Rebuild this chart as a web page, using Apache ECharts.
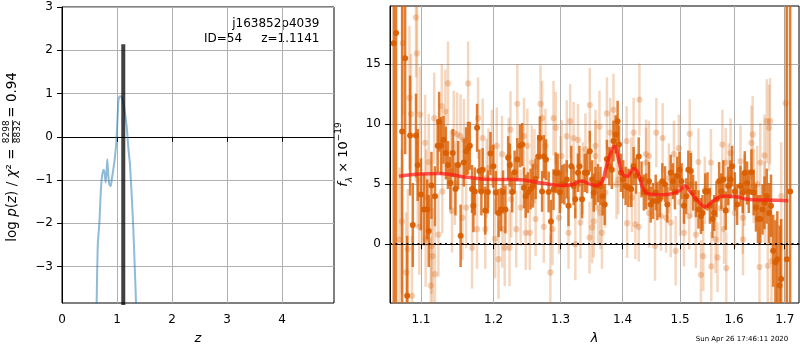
<!DOCTYPE html>
<html>
<head>
<meta charset="UTF-8">
<title>z fit j163852p4039</title>
<style>
  html, body { margin:0; padding:0; background:#fff; }
  #main { width:800px; height:350px; }
</style>
</head>
<body>
<div id="main"></div>
<script src="https://cdn.jsdelivr.net/npm/echarts@6/dist/echarts.min.js"></script>
<script>
// ---- left panel: log p(z) ----
var pzZ = [0.62, 0.630, 0.650, 0.679, 0.700, 0.721, 0.740, 0.760, 0.775, 0.794, 0.810, 0.824, 0.840, 0.860, 0.885,
  0.905, 0.933, 0.955, 0.982, 1.005, 1.024, 1.040, 1.055, 1.075, 1.095, 1.115, 1.145, 1.176, 1.206, 1.236,
  1.265, 1.297, 1.325, 1.345, 1.36];
var pzLogP = [-6, -3.84, -2.5, -2.0, -1.4, -0.98, -0.82, -0.76, -0.85, -1.06, -0.8, -0.52, -0.85, -1.1, -1.14,
  -0.98, -0.75, -0.55, -0.22, 0.3, 0.8, 0.92, 0.94, 0.93, 0.88, 0.78, 0.55, 0.24, -0.25, -0.65,
  -1.3, -2.14, -3.1, -3.84, -6];
var zBest = 1.1141;
var zPeak = 2.14;
var zTicks = [0, 1, 2, 3, 4];
var pTicks = [-3, -2, -1, 0, 1, 2, 3];

// ---- right panel: spectrum (lambda in micron, flux x 1e-19) ----
var darkLam = [
  1.0648, 1.0677, 1.0755, 1.0794, 1.0820, 1.0858, 1.0893, 1.0935, 1.0957, 1.1000,
  1.1038, 1.1083, 1.1103, 1.1139, 1.1186, 1.1222, 1.1242, 1.1269, 1.1301, 1.1333,
  1.1361, 1.1394, 1.1426, 1.1464, 1.1500, 1.1535, 1.1579, 1.1611, 1.1637, 1.1663,
  1.1694, 1.1712, 1.1732, 1.1764, 1.1797, 1.1825, 1.1843, 1.1880, 1.1917, 1.1954,
  1.1996, 1.2030, 1.2070, 1.2105, 1.2135, 1.2170, 1.2210, 1.2234, 1.2269, 1.2305,
  1.2344, 1.2384, 1.2418, 1.2443, 1.2469, 1.2503, 1.2543, 1.2577, 1.2618, 1.2657,
  1.2682, 1.2716, 1.2742, 1.2776, 1.2816, 1.2851, 1.2891, 1.2925, 1.2955, 1.2991,
  1.3027, 1.3060, 1.3097, 1.3124, 1.3168, 1.3205, 1.3232, 1.3274, 1.3297, 1.3339,
  1.3382, 1.3420, 1.3463, 1.3500, 1.3527, 1.3555, 1.3597, 1.3636, 1.3672, 1.3705,
  1.3742, 1.3781, 1.3823, 1.3850, 1.3887, 1.3919, 1.3942, 1.3974, 1.4012, 1.4053,
  1.4100, 1.4147, 1.4188, 1.4228, 1.4275, 1.4323, 1.4363, 1.4403, 1.4451, 1.4481,
  1.4521, 1.4568, 1.4596, 1.4638, 1.4684, 1.4731, 1.4772, 1.4832, 1.4872, 1.4907,
  1.4947, 1.4990, 1.5026, 1.5069, 1.5111, 1.5148, 1.5193, 1.5235, 1.5285, 1.5333,
  1.5378, 1.5407, 1.5457, 1.5500, 1.5544, 1.5593, 1.5624, 1.5667, 1.5717, 1.5759,
  1.5796, 1.5841, 1.5889, 1.5933, 1.5963, 1.6014, 1.6058, 1.6124, 1.6168, 1.6207,
  1.6251, 1.6284, 1.6336, 1.6380, 1.6425, 1.6464, 1.6510, 1.6555, 1.6593, 1.6638,
  1.6684, 1.6723, 1.6767, 1.6812, 1.6850, 1.6897, 1.6928, 1.7044, 1.7111];
var darkFlux = [
  16.75, 17.6, 9.4, 15.5, -4.3, 9.05, 1.6, 9.05, 6.6, 4.15,
  2.9, 2.9, 1.1, 4.9, 4.0, 8.2, 10.2, 8.2, 8.7, 7.6,
  6.6, 5.1, 7.6, 4.6, 6.6, 0.7, 6.8, 7.75, 8.0, 8.2,
  4.6, 3.2, 4.4, 9.7, 6.1, 4.4, 6.2, 2.8, 4.35, 7.55,
  6.5, 4.3, 2.6, 2.9, 4.35, 2.9, 7.2, 6.6, 4.35, 6.0,
  7.05, 8.2, 8.3, 4.7, 4.0, 4.3, 4.6, 4.85, 5.45, 7.3,
  8.85, 4.4, 7.3, 7.05, 4.35, 1.9, 4.55, 5.95, 5.95, 4.3,
  5.0, 5.0, 5.4, 3.2, 6.5, 4.85, 3.75, 5.95, 6.5, 3.75,
  5.95, 5.95, 7.75, 5.4, 4.3, 4.85, 5.1, 4.85, 4.0, 3.3,
  7.1, 6.5, 6.2, 8.6, 9.15, 10.25, 8.3, 5.95, 5.4, 4.85,
  4.7, 4.6, 6.5, 5.7, 7.3, 5.4, 4.3, 4.4, 5.25, 3.3,
  3.6, 4.3, 3.6, 3.75, 5.25, 5.0, 3.3, 5.95, 5.25, 4.4,
  5.7, 6.2, 5.25, 3.2, 4.0, 6.2, 6.1, 4.3, 3.75, 2.9,
  2.35, 2.6, 4.4, 4.4, 3.2, 2.1, 2.6, 3.75, 5.25, 4.4,
  5.4, 2.8, 4.85, 5.4, 6.5, 4.4, 3.3, 4.85, 4.3, 5.95,
  5.1, 4.4, 6.0, 4.3, 3.05, 2.1, 2.1, 2.9, 3.45, 4.0,
  2.6, 3.2, -0.55, -1.5, -1.25, -3.45, -2.9, -1.25, 4.4];
var darkErr = [
  40, 40, 25, 8, 5, 5, 3.5, 3.5, 3, 3,
  3, 2.5, 3, 2.8, 2.5, 2.2, 2.5, 2.4, 2, 2.2,
  2, 2.2, 2, 2.2, 2, 2.6, 2, 2, 2.2, 2,
  2, 2.2, 2, 2, 1.8, 2, 1.8, 2, 1.8, 1.8,
  1.8, 1.8, 2, 1.8, 1.8, 2, 1.8, 1.8, 1.7, 1.8,
  1.8, 1.8, 1.8, 1.7, 1.8, 1.7, 1.7, 1.8, 1.7, 1.8,
  1.8, 1.7, 1.8, 1.7, 1.7, 1.8, 1.7, 1.7, 1.6, 1.7,
  1.6, 1.7, 1.6, 1.7, 1.7, 1.6, 1.6, 1.6, 1.7, 1.6,
  1.6, 1.7, 1.7, 1.6, 1.6, 1.6, 1.6, 1.6, 1.6, 1.7,
  1.6, 1.6, 1.6, 1.7, 1.6, 1.7, 1.6, 1.6, 1.6, 1.6,
  1.6, 1.5, 1.6, 1.5, 1.6, 1.5, 1.5, 1.5, 1.6, 1.5,
  1.5, 1.5, 1.6, 1.5, 1.5, 1.5, 1.5, 1.5, 1.5, 1.5,
  1.6, 1.5, 1.5, 1.5, 1.5, 1.6, 1.5, 1.5, 1.5, 1.6,
  1.5, 1.5, 1.5, 1.6, 1.5, 1.6, 1.5, 1.5, 1.6, 1.5,
  1.6, 1.6, 1.6, 1.6, 1.7, 1.6, 1.7, 1.7, 1.7, 1.8,
  1.8, 1.8, 1.9, 1.9, 2, 2, 2, 2.1, 2.2, 2.3,
  2.5, 2.6, 3, 3.5, 4, 5, 5, 40, 40];

var lightLam = [
  1.0721, 1.0751, 1.0764, 1.0807, 1.0828, 1.0850, 1.0870, 1.0883, 1.0935, 1.0948,
  1.0957, 1.0978, 1.0987, 1.1055, 1.1062, 1.1070, 1.1103, 1.1130, 1.1139, 1.1155,
  1.1176, 1.1186, 1.1232, 1.1278, 1.1285, 1.1325, 1.1361, 1.1400, 1.1417, 1.1440,
  1.1455, 1.1486, 1.1560, 1.1579, 1.1611, 1.1639, 1.1694, 1.1764, 1.1778, 1.1843,
  1.1880, 1.1900, 1.1974, 1.2021, 1.2045, 1.2070, 1.2120, 1.2160, 1.2230, 1.2244,
  1.2329, 1.2344, 1.2394, 1.2443, 1.2469, 1.2494, 1.2530, 1.2560, 1.2600, 1.2618,
  1.2692, 1.2716, 1.2742, 1.2842, 1.2876, 1.2891, 1.2925, 1.2976, 1.3000, 1.3097,
  1.3124, 1.3151, 1.3205, 1.3232, 1.3274, 1.3313, 1.3350, 1.3393, 1.3458, 1.3463,
  1.3527, 1.3555, 1.3600, 1.3620, 1.3661, 1.3715, 1.3742, 1.3796, 1.3850, 1.3900,
  1.4070, 1.4078, 1.4150, 1.4188, 1.4218, 1.4275, 1.4287, 1.4400, 1.4451, 1.4556,
  1.4579, 1.4660, 1.4690, 1.4750, 1.4800, 1.4832, 1.4889, 1.4920, 1.4977, 1.5000,
  1.5069, 1.5174, 1.5200, 1.5285, 1.5333, 1.5378, 1.5421, 1.5450, 1.5563, 1.5570,
  1.5650, 1.5686, 1.5750, 1.5778, 1.5852, 1.5900, 1.5933, 1.6014, 1.6124, 1.6168,
  1.6172, 1.6200, 1.6336, 1.6361, 1.6450, 1.6494, 1.6510, 1.6593, 1.6600, 1.6638,
  1.6658, 1.6684, 1.6704, 1.6732, 1.6928, 1.7020,
  1.1533, 1.1926, 1.2125, 1.2219, 1.2255, 1.2767, 1.3016, 1.3500, 1.3555, 1.3636,
  1.3931, 1.4158, 1.4403, 1.4451, 1.5163, 1.5809, 1.5841, 1.6380];
var lightFlux = [
  0.4, 1.9, 16.75, -2.35, -0.4, 12.2, 10.85, -4.3, 18.9, 15.9,
  5.4, 1.45, 10.8, 8.45, 0.45, 3.9, 6.85, -3.45, -0.15, -1.0,
  10.5, -2.5, 0.8, 11.5, 4.4, 11.05, 13.4, 6.0, 2.8, 9.3,
  5.1, 9.15, 2.2, 8.7, 3.05, 13.4, -0.3, 1.25, 10.5, 8.85,
  1.25, 5.5, 8.0, 0.45, 8.2, -1.25, 7.5, -0.3, -0.3, 9.55,
  1.25, 11.7, 3.05, 9.0, 0.95, 8.2, 0.95, 6.8, 6.5, 2.1,
  11.7, 10.5, 1.45, -2.35, 1.25, 10.5, 9.7, 2.2, 6.0, 9.0,
  0.95, 10.25, 8.85, 0.0, 8.7, 1.8, 5.5, 7.9, 0.55, 11.6,
  1.9, 8.2, 3.0, 9.8, 0.95, 4.3, 10.9, 9.3, 11.2, 5.0,
  8.6, 1.75, 6.0, 9.3, 1.65, 1.45, 12.05, 7.5, 2.6, -0.15,
  9.3, 2.35, 8.85, 2.2, 5.5, 1.8, 7.5, -0.55, 8.0, 3.5,
  0.95, 9.2, 5.0, 0.8, 6.85, -2.55, -1.0, 4.5, 6.8, -1.85,
  0.4, -1.1, 3.0, 8.3, -2.0, 5.5, 7.6, 2.6, 6.9, 2.2,
  0.4, 4.5, 8.45, 9.15, 5.0, -1.9, 6.8, 7.4, 3.5, 10.25,
  -1.8, 9.7, 10.25, -1.4, 4.0, 11.75,
  9.0, 6.35, 1.25, 7.35, 3.75, 8.2, 7.35, 1.4, 7.35, 2.6,
  5.4, 3.9, 6.8, 7.35, 2.35, 1.25, 6.8, 4.85];
var lightErr = [
  6, 6, 6, 5, 5, 6, 5, 5, 5, 5,
  4, 4, 4, 4, 4, 4, 4, 4, 4, 4,
  3.8, 4, 3.5, 3.5, 3.5, 3.5, 3.5, 3.5, 3.5, 3.5,
  3.5, 3.5, 3.5, 3.4, 3.4, 3.5, 3.4, 3.3, 3.4, 3.3,
  3.3, 3.3, 3.2, 3.3, 3.2, 3.3, 3.2, 3.2, 3.2, 3.2,
  3.2, 3.3, 3.2, 3.2, 3.1, 3.1, 3.1, 3.1, 3.1, 3.1,
  3.2, 3.1, 3.0, 3.1, 3.0, 3.1, 3.0, 3.0, 3.0, 3.0,
  3.0, 3.1, 3.0, 3.0, 3.0, 3.0, 3.0, 3.0, 3.0, 3.1,
  3.0, 3.0, 3.0, 3.0, 3.0, 2.9, 3.0, 2.9, 3.0, 2.9,
  2.9, 2.9, 2.9, 2.9, 2.9, 2.9, 3.0, 2.9, 2.9, 2.9,
  2.9, 2.9, 2.9, 2.9, 2.9, 2.9, 2.8, 2.9, 2.8, 2.8,
  2.8, 2.9, 2.8, 2.8, 2.8, 2.9, 2.9, 2.8, 2.8, 2.9,
  2.8, 2.9, 2.9, 2.9, 3.0, 2.9, 2.9, 2.9, 3.0, 3.0,
  3.0, 3.0, 3.1, 3.2, 3.2, 3.3, 3.3, 3.4, 3.4, 3.5,
  3.5, 3.6, 3.6, 3.8, 4.5, 40,
  3.5, 3.3, 3.2, 3.2, 3.2, 3.1, 3.0, 3.0, 3.0, 3.0,
  2.9, 2.9, 2.9, 2.9, 2.8, 2.9, 2.9, 3.1];

var modelLam = [1.0714, 1.0900, 1.1249, 1.1600, 1.2000, 1.2330, 1.2730, 1.3036, 1.3200, 1.3326,
  1.3450, 1.3566, 1.3664, 1.3720, 1.3785, 1.3868, 1.3923, 1.4006, 1.4080, 1.4187,
  1.4260, 1.4375, 1.4521, 1.4700, 1.4872, 1.5000, 1.5081, 1.5180, 1.5294, 1.5463,
  1.5605, 1.5796, 1.6050, 1.6244, 1.6571, 1.7074];
var modelFlux = [5.67, 5.8, 5.9, 5.6, 5.4, 5.4, 5.07, 4.9, 5.0, 5.26,
  5.05, 4.9, 5.26, 6.2, 7.33, 8.17, 7.33, 5.81, 5.67, 6.29,
  5.95, 4.43, 4.15, 4.12, 4.24, 4.5, 4.84, 4.4, 3.74, 3.13,
  3.6, 4.01, 3.96, 3.74, 3.68, 3.63];
var lamTicks = [1.1, 1.2, 1.3, 1.4, 1.5, 1.6, 1.7];
var fluxTicks = [0, 5, 10, 15];

var FONT = 'DejaVu Sans';
var ORANGE = '217,95,2';

function errBars(barColor, dotColor, barW, dotR) {
  return function (params, api) {
    var cs = params.coordSys;
    var x = api.value(0), y = api.value(1), e = api.value(2);
    var hi = api.coord([x, y + e]);
    var lo = api.coord([x, y - e]);
    var c = api.coord([x, y]);
    var top = Math.max(hi[1], cs.y), bot = Math.min(lo[1], cs.y + cs.height);
    var kids = [];
    if (bot > top) {
      kids.push({type: 'line', shape: {x1: c[0], y1: top, x2: c[0], y2: bot},
        style: {stroke: barColor, lineWidth: barW}});
    }
    if (c[1] >= cs.y && c[1] <= cs.y + cs.height) {
      kids.push({type: 'circle', shape: {cx: c[0], cy: c[1], r: dotR}, style: {fill: dotColor}});
    }
    return {type: 'group', children: kids};
  };
}

function rows(lam, flux, err) {
  return lam.map(function (l, i) { return [Math.log10(l), flux[i], err[i]]; });
}

var axisTxt = {color: '#000', fontFamily: FONT, fontSize: 12};
var gridLine = {show: true, lineStyle: {color: '#b0b0b0', width: 1}};

var myChart = echarts.init(document.getElementById('main'));
var option = {
  animation: false,
  grid: [
    {left: 62, top: 7, width: 272, height: 297, show: true, borderColor: '#000', borderWidth: 1},
    {left: 390, top: 6, width: 409, height: 298, show: true, borderColor: '#000', borderWidth: 1}
  ],
  xAxis: [
    {
      type: 'value', gridIndex: 0, min: 0, max: 4.945,
      name: 'z', nameLocation: 'middle', nameGap: 29,
      nameTextStyle: {fontFamily: FONT, fontSize: 13, fontStyle: 'italic', color: '#000'},
      axisLine: {lineStyle: {color: '#000'}},
      axisTick: {length: 5, lineStyle: {color: '#000'}, customValues: zTicks},
      axisLabel: Object.assign({margin: 11, customValues: zTicks}, axisTxt),
      splitLine: gridLine
    },
    {
      type: 'value', gridIndex: 1, min: Math.log10(1.06), max: Math.log10(1.7293),
      name: 'λ', nameLocation: 'middle', nameGap: 29,
      nameTextStyle: {fontFamily: FONT, fontSize: 13, fontStyle: 'italic', color: '#000'},
      axisLine: {lineStyle: {color: '#000'}},
      axisTick: {length: 5, lineStyle: {color: '#000'}, customValues: lamTicks.map(Math.log10)},
      axisLabel: Object.assign({margin: 11, customValues: lamTicks.map(Math.log10),
        formatter: function (v) { return Math.pow(10, v).toFixed(1); }}, axisTxt),
      splitLine: gridLine
    }
  ],
  yAxis: [
    {
      type: 'value', gridIndex: 0, min: -3.84, max: 3,
      axisLine: {show: true, lineStyle: {color: '#000'}},
      axisTick: {show: true, length: 5, lineStyle: {color: '#000'}, customValues: pTicks},
      axisLabel: Object.assign({margin: 9, customValues: pTicks,
        formatter: function (v) { return v < 0 ? '\u2212' + Math.abs(v) : String(v); }}, axisTxt),
      splitLine: gridLine
    },
    {
      type: 'value', gridIndex: 1, min: -4.9, max: 19.85,
      name: '{i|f}{s|λ}{n| × 10}{p|\u221219}', nameLocation: 'middle', nameGap: 36, nameRotate: 90,
      nameTextStyle: {
        color: '#000',
        rich: {
          i: {fontFamily: FONT, fontSize: 13, fontStyle: 'italic', lineHeight: 20, verticalAlign: 'middle'},
          s: {fontFamily: FONT, fontSize: 9, fontStyle: 'italic', lineHeight: 20, verticalAlign: 'bottom'},
          n: {fontFamily: FONT, fontSize: 13, lineHeight: 20, verticalAlign: 'middle'},
          p: {fontFamily: FONT, fontSize: 9, lineHeight: 20, verticalAlign: 'top'}
        }
      },
      axisLine: {show: true, lineStyle: {color: '#000'}},
      axisTick: {show: true, length: 5, lineStyle: {color: '#000'}, customValues: fluxTicks},
      axisLabel: Object.assign({margin: 9, customValues: fluxTicks}, axisTxt),
      splitLine: gridLine
    }
  ],
  graphic: [
    {type: 'text', x: 319.5, y: 24, style: {text: 'j163852p4039', font: '12px "DejaVu Sans"', fill: '#000', align: 'right', verticalAlign: 'middle'}},
    {type: 'text', x: 319.5, y: 39, style: {text: 'ID=54     z=1.1141', font: '12px "DejaVu Sans"', fill: '#000', align: 'right', verticalAlign: 'middle'}},
    {
      type: 'group', x: 12.5, y: 241.7, rotation: Math.PI / 2,
      children: [
        {type: 'text', x: 0, y: 0, style: {
          text: '{n|log }{i|p}{n|(}{i|z}{n|) / }{i|χ}{n|² =}',
          align: 'left', verticalAlign: 'middle', fill: '#000',
          rich: {
            n: {fontFamily: FONT, fontSize: 13.5, fill: '#000'},
            i: {fontFamily: FONT, fontSize: 13.5, fontStyle: 'italic', fill: '#000'}
          }
        }},
        {type: 'text', x: 110, y: -5.5, style: {text: '8298', font: '9px "DejaVu Sans"', fill: '#000', align: 'center', verticalAlign: 'middle'}},
        {type: 'line', shape: {x1: 98.5, y1: 0, x2: 121.5, y2: 0}, style: {stroke: '#000', lineWidth: 0.8}},
        {type: 'text', x: 110, y: 5.5, style: {text: '8832', font: '9px "DejaVu Sans"', fill: '#000', align: 'center', verticalAlign: 'middle'}},
        {type: 'text', x: 124, y: 0, style: {text: '= 0.94', font: '13.5px "DejaVu Sans"', fill: '#000', align: 'left', verticalAlign: 'middle'}}
      ]
    },
    {type: 'text', x: 742, y: 339.5, style: {text: 'Sun Apr 26 17:46:11 2020', font: '7px "DejaVu Sans"', fill: '#000', align: 'center', verticalAlign: 'middle'}}
  ],
  series: [
    {
      type: 'line', xAxisIndex: 0, yAxisIndex: 0, showSymbol: false, smooth: 0.2,
      data: pzZ.map(function (z, i) { return [z, pzLogP[i]]; }),
      lineStyle: {color: 'rgba(31,119,180,0.5)', width: 2}
    },
    {
      type: 'line', xAxisIndex: 0, yAxisIndex: 0, showSymbol: false,
      data: [[zBest, -10], [zBest, zPeak]],
      lineStyle: {color: 'rgba(0,0,0,0.75)', width: 4}
    },
    {
      type: 'custom', xAxisIndex: 1, yAxisIndex: 1,
      renderItem: errBars('rgba(' + ORANGE + ',0.25)', 'rgba(' + ORANGE + ',0.28)', 2.5, 3.1),
      encode: {x: 0, y: 1},
      data: rows(lightLam, lightFlux, lightErr)
    },
    {
      type: 'custom', xAxisIndex: 1, yAxisIndex: 1,
      renderItem: errBars('rgba(' + ORANGE + ',0.8)', 'rgba(' + ORANGE + ',0.95)', 2.5, 3.0),
      encode: {x: 0, y: 1},
      data: rows(darkLam, darkFlux, darkErr)
    },
    {
      type: 'line', xAxisIndex: 1, yAxisIndex: 1, showSymbol: false, smooth: 0.5,
      data: modelLam.map(function (l, i) { return [Math.log10(l), modelFlux[i]]; }),
      lineStyle: {color: 'rgba(255,20,20,0.7)', width: 3.5},
      markLine: {
        silent: true, symbol: ['none', 'none'], label: {show: false},
        lineStyle: {color: '#111', type: [2, 3.5], width: 1.8},
        data: [{yAxis: 0}]
      }
    }
  ]
};
myChart.setOption(option);
</script>
</body>
</html>
